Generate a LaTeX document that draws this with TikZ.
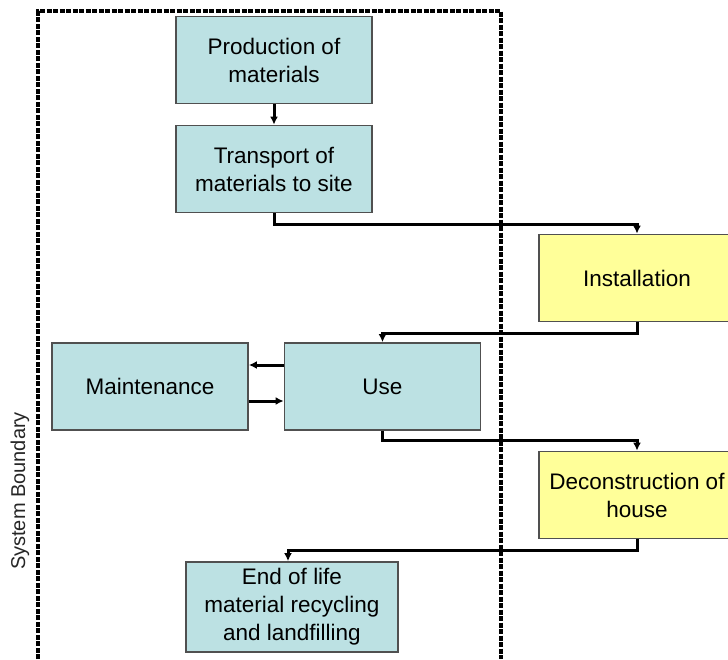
\documentclass[tikz,border=0pt]{standalone}
\usepackage{fontspec}
\setmainfont{Liberation Sans}
\usetikzlibrary{arrows.meta}

\definecolor{stagecyan}{RGB}{188,225,227}
\definecolor{stageyellow}{RGB}{255,255,153}
\definecolor{stageedge}{RGB}{80,80,80}

\begin{document}
\begin{tikzpicture}[x=1pt,y=1pt]
		\tikzstyle{stage}=[rectangle,draw=stageedge,line width=1.8pt,minimum width=196pt,minimum height=87pt,inner sep=2pt,align=center,font=\fontsize{22.5}{28}\selectfont]
		\tikzstyle{inside stage}=[stage,fill=stagecyan];
		\tikzstyle{outside stage}=[stage,fill=stageyellow];
		\tikzstyle{flow}=[line width=3pt,-{Latex[length=8pt,width=8pt]}]
		\tikzstyle{boundary}=[line width=3.2pt,dash pattern=on 5pt off 1.5pt]

		\useasboundingbox (0,0) rectangle (728,-659);

			% Draw the system boundary
		\draw[boundary] (38,-659) -- (38,-11) -- (501,-11) -- (501,-659);
		\node[rotate=90,font=\fontsize{20}{24}\selectfont,text=black!85] (SB) at (20,-491) {System Boundary};

			% Draw the stages inside the boundary
		\node[inside stage] (P) at (274,-60) {Production of\\materials};
		\node[inside stage] (T) at (274,-169) {Transport of\\materials to site};
		\node[inside stage] (U) at (382.5,-386.5) {Use};
		\node[inside stage] (M) at (150,-386.5) {Maintenance};
		\node[inside stage,minimum width=212pt,minimum height=90pt] (E) at (292,-607) {End of life\\material recycling\\and landfilling};

			% Draw the stages outside the boundary
		\node[outside stage] (I) at (637,-278) {Installation};
		\node[outside stage] (D) at (637,-495) {Deconstruction of\\house};

			% Connect the stages
		\draw[flow] (P) -- (T);
		\draw[flow] (T.south) -- ++(0,-11) -| (I.north);
		\draw[flow] (I.south) -- ++(0,-11) -| (U.north);
		\draw[flow] ([yshift=21.5pt]U.west) -- ([yshift=21.5pt]M.east);
		\draw[flow] ([yshift=-14.5pt]M.east) -- ([yshift=-14.5pt]U.west);
		\draw[flow] (U.south) -- ++(0,-10) -| (D.north);
		\draw[flow] (D.south) -- ++(0,-11) -| ([xshift=-4pt]E.north);
		\end{tikzpicture}
\end{document}
